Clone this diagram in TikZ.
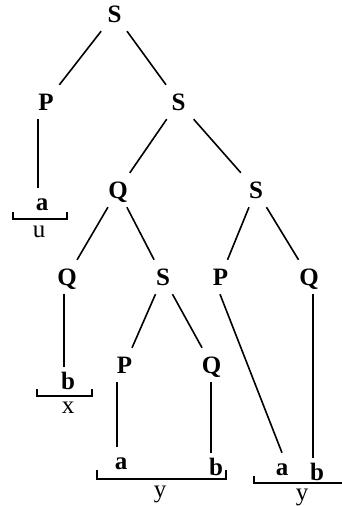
\documentclass[tikz,border=0pt]{standalone}
\usepackage{fontspec}
\setmainfont{Liberation Serif}
\begin{document}
\begin{tikzpicture}[x=1pt,y=-1pt,
  inner/.style={font=\fontsize{25}{29}\selectfont\bfseries, text height=16pt, text depth=0pt,
    inner xsep=0pt, inner ysep=9pt, minimum width=40pt, anchor=base},
  leaf/.style={font=\fontsize{25}{29}\selectfont\bfseries, text height=16pt, text depth=0pt,
    inner xsep=0pt, inner ysep=6pt, anchor=base},
  lab/.style={font=\fontsize{25}{29}\selectfont, inner sep=0pt, anchor=base},
  edge/.style={line width=1.6pt},
  brk/.style={line width=1.6pt, line join=miter}]
\useasboundingbox (0,0) rectangle (342,506);
\clip (0,0) rectangle (342,506);
% internal nodes
\node[inner] (s0) at (114.5,22) {S};
\node[inner] (p1) at (46,110) {P};
\node[inner] (s1) at (178.5,110) {S};
\node[inner] (q2) at (118,198) {Q};
\node[inner] (s2) at (256,198) {S};
\node[inner] (q3) at (67,285) {Q};
\node[inner] (s3) at (163,285) {S};
\node[inner] (p3) at (220.5,285) {P};
\node[inner] (qq3) at (309,285) {Q};
\node[inner] (p4) at (124.5,373) {P};
\node[inner] (q4) at (211.5,373) {Q};
% leaves
\node[leaf] (a1) at (42,210) {a};
\node[leaf] (b1) at (68,389) {b};
\node[leaf] (a2) at (121,469) {a};
\node[leaf] (b2) at (216,475) {b};
\node[leaf] (a3) at (282,475) {a};
\node[leaf] (b3) at (317,480) {b};
% labels
\node[lab] (u) at (39,237) {u};
\node[lab] (x) at (68,413) {x};
\node[lab] (y1) at (160,497) {y};
\node[lab] (y2) at (302,500) {y};
% tree edges
\draw[edge] (s0) -- (p1);
\draw[edge] (s0) -- (s1);
\draw[edge] (s1) -- (q2);
\draw[edge] (s1) -- (s2);
\draw[edge] (q2) -- (q3);
\draw[edge] (q2) -- (s3);
\draw[edge] (s2) -- (p3);
\draw[edge] (s2) -- (qq3);
\draw[edge] (s3) -- (p4);
\draw[edge] (s3) -- (q4);
% to leaves
\draw[edge] ([xshift=-8pt]p1.south) -- ([xshift=-4pt]a1.north);
\draw[edge] ([xshift=-3pt]q3.south) -- ([xshift=-4pt]b1.north);
\draw[edge] ([xshift=-7.5pt]p4.south) -- ([xshift=-4pt]a2.north);
\draw[edge] ([xshift=-0.5pt]q4.south) -- ([xshift=-5pt]b2.north);
\draw[edge] ([xshift=-0.5pt]p3.south) -- (a3.north);
\draw[edge] ([xshift=4pt]qq3.south) -- ([xshift=-4pt]b3.north);
% brackets
\draw[brk] (13,212) |- (67,219) -- (67,212);
\draw[brk] (37,389) |- (92,396) -- (92,389);
\draw[brk] (97,470) |- (226,479) -- (226,470);
\draw[brk] (254,476) |- (360,483);
\end{tikzpicture}
\end{document}
